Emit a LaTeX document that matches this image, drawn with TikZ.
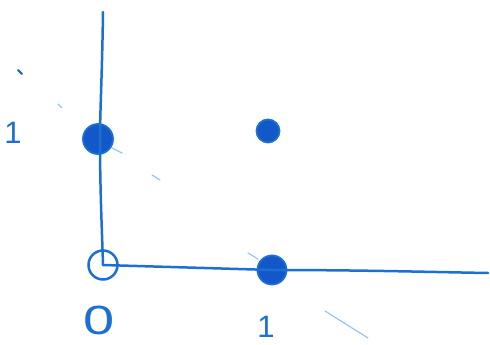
\documentclass[tikz,border=0pt]{standalone}
\usepackage{fontspec}
\setmainfont{Liberation Sans}
\definecolor{pen}{RGB}{28,112,212}
\definecolor{ink}{RGB}{18,88,200}
\definecolor{faint}{RGB}{150,195,240}
\tikzset{
  penline/.style={draw=pen, line width=2.5pt, line cap=round, line join=round},
  faintline/.style={draw=faint, line width=1.2pt, line cap=round},
  dotpt/.style={circle, fill=ink, draw=pen, line width=1.8pt, inner sep=0pt, minimum size=#1},
  opendot/.style={circle, draw=pen, line width=2.5pt, inner sep=0pt, minimum size=29pt},
  handlabel/.style={text=pen, inner sep=0pt, font=\fontsize{31}{31}\selectfont}
}
\begin{document}
\begin{tikzpicture}[x=1pt,y=-1pt]
\useasboundingbox (0,0) rectangle (490,345);
% axes endpoints
\coordinate (ytop) at (103,12);
\coordinate (ymid) at (100,140);
\coordinate (xend) at (488,273);
% points
\node[opendot] (origin) at (103,265) {};
\node[dotpt=30pt] (p01) at (98,139) {};
\node[dotpt=23pt] (p11) at (268,131) {};
\node[dotpt=29pt] (p10) at (272,270) {};
% axes
\draw[penline] (ytop) .. controls (102,80) and (100,110) .. (ymid) .. controls (100,190) and (102,230) .. (origin.center);
\draw[penline] (origin.center) -- (p10.center) .. controls (360,270) and (430,272) .. (xend);
% labels
\node[handlabel, font=\fontsize{40}{40}\selectfont] (lab0) at (99,320) {\scalebox{1.4}[1.02]{0}};
\node[handlabel] (labx1) at (266,327) {1};
\node[handlabel] (laby1) at (13,133) {1};
% faint stray marks
\coordinate (m1) at (18,70);
\coordinate (m2) at (22,74);
\draw[draw=ink, line width=2pt, line cap=round] (m1) -- (m2);
\coordinate (f1a) at (58,104);
\coordinate (f1b) at (62,108);
\draw[faintline] (f1a) -- (f1b);
\coordinate (f2a) at (112,148);
\coordinate (f2b) at (122,153);
\draw[faintline] (f2a) -- (f2b);
\coordinate (f3a) at (152,175);
\coordinate (f3b) at (160,180);
\draw[faintline] (f3a) -- (f3b);
\coordinate (f4a) at (248,253);
\coordinate (f4b) at (258,259);
\draw[faintline] (f4a) -- (f4b);
\coordinate (f5a) at (325,311);
\coordinate (f5b) at (368,338);
\draw[faintline] (f5a) -- (f5b);
\end{tikzpicture}
\end{document}
